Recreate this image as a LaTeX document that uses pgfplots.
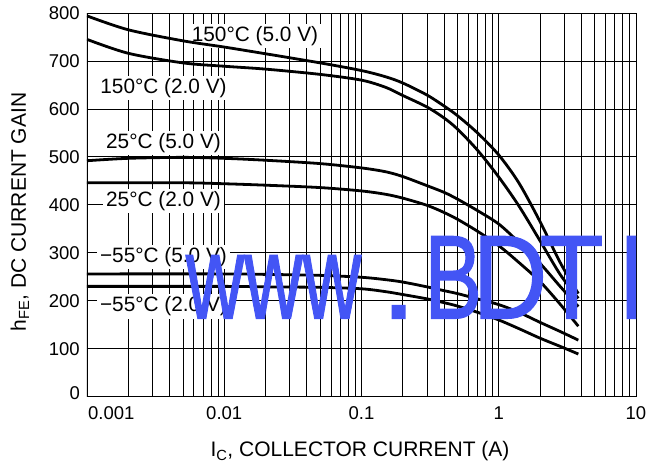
\documentclass[border=0pt]{standalone}
\usepackage{fontspec}
\setmainfont{Liberation Sans}
\newfontfamily\wmfont[FakeBold=1.2]{Liberation Sans}
\usepackage{graphicx}
\usepackage{pgfplots}
\pgfplotsset{compat=1.18}
\definecolor{wm}{RGB}{67,85,245}
\newcommand{\wmtxt}[2]{\scalebox{#1}[1]{\fontsize{119}{119}\wmfont #2}}
\begin{document}
\begin{tikzpicture}
\path[use as bounding box] (-87pt,-71.3pt) rectangle (563pt,396.7pt);
\begin{axis}[
  at={(0,0)}, anchor=south west,
  scale only axis, width=549pt, height=383.7pt,
  xmode=log, log basis x=10,
  xmin=0.001, xmax=10, ymin=0, ymax=800,
  xtick={0.01,0.1,1,10}, xticklabels={0.01,0.1,1,10},
  extra x ticks={0.001}, extra x tick labels={0.001},
  extra x tick style={xticklabel style={anchor=north west, xshift=1pt}},
  minor xtick={0.002,0.003,0.004,0.005,0.006,0.007,0.008,0.009,
               0.02,0.03,0.04,0.05,0.06,0.07,0.08,0.09,
               0.2,0.3,0.4,0.5,0.6,0.7,0.8,0.9,
               2,3,4,5,6,7,8,9},
  ytick={100,200,...,800},
  extra y ticks={0},
  extra y tick style={yticklabel style={yshift=4pt}},
  xmajorgrids, xminorgrids, ymajorgrids,
  major tick length=0pt, minor tick length=0pt,
  grid style={black, line width=0.8pt},
  minor grid style={black, line width=0.8pt},
  axis line style={black, line width=0.8pt},
  /pgf/number format/assume math mode=true,
  tick label style={font=\fontsize{18.5}{18.5}\selectfont, inner sep=0pt},
  yticklabel style={anchor=east, xshift=-7pt},
  xticklabel style={anchor=north, yshift=-10pt},
]
% curve labels (white boxes over the grid)
\node[fill=white, inner xsep=3pt, inner ysep=2.5pt, anchor=base, font=\fontsize{20.8}{20.8}\selectfont] at (axis cs:0.01675,741) {150°C (5.0 V)};
\node[fill=white, inner xsep=3pt, inner ysep=2.5pt, anchor=base, font=\fontsize{20.8}{20.8}\selectfont] at (axis cs:0.003609,632) {150°C (2.0 V)};
\node[fill=white, inner xsep=3pt, inner ysep=2.5pt, anchor=base, font=\fontsize{20.8}{20.8}\selectfont] at (axis cs:0.003609,518) {25°C (5.0 V)};
\node[fill=white, inner xsep=3pt, inner ysep=2.5pt, anchor=base, font=\fontsize{20.8}{20.8}\selectfont] at (axis cs:0.003609,397) {25°C (2.0 V)};
\node[fill=white, inner xsep=3pt, inner ysep=2.5pt, anchor=base, font=\fontsize{20.8}{20.8}\selectfont] at (axis cs:0.003609,280) {−55°C (5.0 V)};
\node[fill=white, inner xsep=3pt, inner ysep=2.5pt, anchor=base, font=\fontsize{20.8}{20.8}\selectfont] at (axis cs:0.003609,177) {−55°C (2.0 V)};

% 150 C, 5.0 V
\addplot[black, line width=2.8pt, smooth] coordinates {
(0.001,794)(0.002,765)(0.005,742)(0.01,729)(0.02,715)(0.05,696)(0.1,680)(0.15,667)(0.2,654)(0.3,629)(0.4,606)(0.5,586)(0.7,550)(1.0,504)(1.4,446)(2.0,365)(2.8,280)(3.8,215)};
% 150 C, 2.0 V
\addplot[black, line width=2.8pt, smooth] coordinates {
(0.001,745)(0.002,716)(0.005,696)(0.01,689)(0.02,683)(0.05,672)(0.1,660)(0.15,645)(0.2,628)(0.3,604)(0.4,581)(0.5,558)(0.7,514)(1.0,458)(1.4,398)(2.0,325)(2.8,255)(3.8,205)};
% 25 C, 5.0 V
\addplot[black, line width=2.8pt, smooth] coordinates {
(0.001,492)(0.002,497)(0.005,499)(0.01,497)(0.02,493)(0.05,486)(0.1,477)(0.15,469)(0.2,459)(0.3,440)(0.4,426)(0.5,412)(0.7,388)(1.0,360)(1.4,322)(2.0,278)(2.8,230)(3.8,188)};
% 25 C, 2.0 V
\addplot[black, line width=2.8pt, smooth] coordinates {
(0.001,446)(0.005,446)(0.01,444)(0.02,441)(0.05,436)(0.1,429)(0.15,422)(0.2,414)(0.3,399)(0.4,384)(0.5,370)(0.7,345)(1.0,315)(1.4,280)(2.0,240)(2.8,193)(3.8,147)};
% -55 C, 5.0 V
\addplot[black, line width=2.8pt, smooth] coordinates {
(0.001,256)(0.01,256)(0.02,255)(0.05,253)(0.1,249)(0.15,244)(0.2,239)(0.3,229)(0.4,221)(0.5,215)(0.7,204)(1.0,192)(1.4,176)(2.0,155)(2.8,136)(3.8,118)};
% -55 C, 2.0 V
\addplot[black, line width=2.8pt, smooth] coordinates {
(0.001,230)(0.01,230)(0.02,229)(0.05,228)(0.1,225)(0.15,219)(0.2,213)(0.3,204)(0.4,196)(0.5,189)(0.7,176)(1.0,160)(1.4,142)(2.0,122)(2.8,105)(3.8,89)};

% thick left and bottom axis lines
\draw[black, line width=2.2pt] (rel axis cs:0,1) -- (rel axis cs:0,0) -- (rel axis cs:1,0);

% watermark
\node[wm, inner sep=0pt, anchor=base west] at (rel axis cs:0.1798,0.2043) {\wmtxt{0.68}{www}};
\node[wm, inner sep=0pt, anchor=base west] at (rel axis cs:0.5340,0.2043) {\wmtxt{1.1}{.}};
\node[wm, inner sep=0pt, anchor=base west] at (rel axis cs:0.6138,0.2043) {\wmtxt{0.73}{B}};
\node[wm, inner sep=0pt, anchor=base west] at (rel axis cs:0.7020,0.2043) {\wmtxt{0.87}{D}};
\node[wm, inner sep=0pt, anchor=base west] at (rel axis cs:0.8240,0.2043) {\wmtxt{0.88}{T}};
\node[wm, inner sep=0pt, anchor=base west] at (rel axis cs:0.9620,0.2043) {\wmtxt{1.1}{I}};
\end{axis}
\node[anchor=base, font=\fontsize{21}{21}\selectfont] at (273pt,-60.3pt) {I\textsubscript{C}, COLLECTOR CURRENT (A)};
\node[anchor=base, rotate=90, font=\fontsize{21}{21}\selectfont] at (-61pt,184.7pt) {h\textsubscript{FE}, DC CURRENT GAIN};
\end{tikzpicture}
\end{document}
